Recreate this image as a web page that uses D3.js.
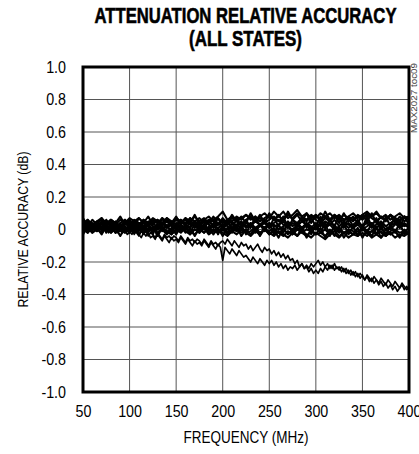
<!DOCTYPE html>
<html>
<head>
<meta charset="utf-8">
<script src="https://cdn.jsdelivr.net/npm/d3@7"></script>
<style>
  body { margin: 0; background: #fff; }
  text { font-family: "Liberation Sans", Arial, sans-serif; fill: #000; }
</style>
</head>
<body>
<div id="chart"></div>
<script>
var svgWidth = 419;
var svgHeight = 454;

var margin = { top: 67, right: 10, bottom: 62, left: 83 };
var width = svgWidth - margin.left - margin.right;
var height = svgHeight - margin.top - margin.bottom;

// frequency points (MHz), 5 MHz steps for the states grouped round 0 dB
var freq = [50,55,60,65,70,75,80,85,90,95,
  100,105,110,115,120,125,130,135,140,145,
  150,155,160,165,170,175,180,185,190,195,
  200,205,210,215,220,225,230,235,240,245,
  250,255,260,265,270,275,280,285,290,295,
  300,305,310,315,320,325,330,335,340,345,
  350,355,360,365,370,375,380,385,390,395,
  400];

// 2.5 MHz steps for the two states that fall away
var freqFine = [50,52.5,55,57.5,60,62.5,65,67.5,70,72.5,
  75,77.5,80,82.5,85,87.5,90,92.5,95,97.5,
  100,102.5,105,107.5,110,112.5,115,117.5,120,122.5,
  125,127.5,130,132.5,135,137.5,140,142.5,145,147.5,
  150,152.5,155,157.5,160,162.5,165,167.5,170,172.5,
  175,177.5,180,182.5,185,187.5,190,192.5,195,197.5,
  200,202.5,205,207.5,210,212.5,215,217.5,220,222.5,
  225,227.5,230,232.5,235,237.5,240,242.5,245,247.5,
  250,252.5,255,257.5,260,262.5,265,267.5,270,272.5,
  275,277.5,280,282.5,285,287.5,290,292.5,295,297.5,
  300,302.5,305,307.5,310,312.5,315,317.5,320,322.5,
  325,327.5,330,332.5,335,337.5,340,342.5,345,347.5,
  350,352.5,355,357.5,360,362.5,365,367.5,370,372.5,
  375,377.5,380,382.5,385,387.5,390,392.5,395,397.5,
  400];

var xTicks = [50,100,150,200,250,300,350,400];
var yTicks = [1.0,0.8,0.6,0.4,0.2,0,-0.2,-0.4,-0.6,-0.8,-1.0];
var yTickLabels = ["1.0","0.8","0.6","0.4","0.2","0","-0.2","-0.4","-0.6","-0.8","-1.0"];

// relative accuracy (dB), one array per attenuation state
var state1 = [0.03,0.05,0.02,0.04,0.06,0.03,0.05,0.02,0.04,0.06,
  0.03,0.05,0.07,0.04,0.03,0.06,0.04,0.07,0.05,0.03,
  0.06,0.04,0.07,0.05,0.08,0.05,0.07,0.04,0.06,0.08,
  0.11,0.06,0.05,0.08,0.06,0.09,0.07,0.05,0.08,0.10,
  0.07,0.11,0.08,0.06,0.09,0.07,0.10,0.08,0.06,0.09,
  0.07,0.10,0.08,0.06,0.09,0.07,0.05,0.08,0.06,0.09,
  0.07,0.10,0.08,0.11,0.07,0.06,0.09,0.07,0.05,0.08,
  0.06];
var state2 = [0.01,0.03,0.00,0.02,0.04,0.01,0.03,0.00,0.02,0.04,
  0.01,0.03,0.02,0.00,0.04,0.02,0.01,0.03,0.05,0.02,
  0.00,0.03,0.01,0.04,0.02,0.00,0.03,0.05,0.02,0.01,
  0.03,0.04,0.01,0.03,0.05,0.02,0.04,0.01,0.03,0.05,
  0.02,0.04,0.06,0.03,0.01,0.04,0.02,0.05,0.03,0.01,
  0.04,0.02,0.05,0.03,0.06,0.02,0.04,0.01,0.03,0.05,
  0.02,0.04,0.01,0.03,0.05,0.02,0.04,0.06,0.03,0.04,
  0.02];
var state3 = [-0.01,0.01,-0.02,0.00,0.02,-0.01,0.01,-0.02,0.00,0.01,
  -0.01,0.02,0.00,-0.02,0.01,-0.01,0.00,0.02,-0.01,-0.03,
  0.00,-0.02,0.01,-0.01,-0.03,0.00,-0.02,0.01,-0.01,-0.02,
  0.00,-0.03,-0.01,0.01,-0.02,0.00,-0.03,-0.01,-0.02,0.00,
  -0.03,-0.01,-0.02,-0.04,-0.01,-0.03,0.00,-0.02,-0.04,-0.01,
  -0.03,-0.02,-0.04,-0.01,-0.03,-0.05,-0.02,-0.01,-0.03,-0.04,
  -0.02,-0.04,-0.01,-0.03,-0.05,-0.02,-0.03,-0.01,-0.04,-0.02,
  -0.03];
var state4 = [0.04,0.06,0.03,0.05,0.07,0.04,0.06,0.03,0.06,0.04,
  0.07,0.05,0.03,0.06,0.04,0.07,0.05,0.03,0.06,0.04,
  0.07,0.05,0.06,0.03,0.05,0.07,0.04,0.06,0.05,0.03,
  0.06,0.04,0.07,0.05,0.03,0.06,0.08,0.05,0.07,0.04,
  0.06,0.08,0.05,0.07,0.10,0.06,0.04,0.07,0.05,0.08,
  0.06,0.04,0.07,0.05,0.08,0.06,0.09,0.07,0.05,0.08,
  0.06,0.09,0.07,0.05,0.08,0.06,0.09,0.07,0.06,0.08,
  0.07];
var state5 = [0.02,0.00,0.03,0.01,0.04,0.02,0.00,0.03,0.01,0.03,
  0.05,0.02,0.04,0.01,0.03,0.00,0.02,0.04,0.01,0.03,
  0.02,0.05,0.03,0.01,0.04,0.02,0.05,0.03,0.01,0.03,
  0.05,0.02,0.00,0.03,0.01,0.04,0.02,0.05,0.03,0.01,
  0.04,0.02,0.03,0.05,0.02,0.00,0.03,0.01,0.04,0.02,
  0.00,0.03,0.01,0.04,0.02,0.00,0.02,0.04,0.01,0.03,
  0.00,0.02,0.04,0.01,0.03,0.00,0.02,0.04,0.01,0.03,
  0.01];
var state6 = [0.00,-0.02,0.01,-0.01,0.02,0.00,-0.02,0.01,-0.01,0.00,
  -0.02,0.01,-0.01,0.02,-0.01,0.00,-0.02,0.01,-0.01,-0.03,
  0.00,-0.01,0.01,-0.02,0.00,-0.01,0.02,-0.02,0.00,-0.01,
  0.01,-0.02,0.00,-0.01,0.01,-0.02,-0.01,0.01,-0.02,0.00,
  -0.01,0.01,-0.02,0.00,0.02,-0.01,0.01,-0.02,0.00,-0.01,
  0.01,-0.02,0.00,-0.03,-0.01,0.01,-0.02,0.00,-0.01,-0.03,
  0.00,-0.02,-0.01,0.01,-0.02,-0.04,-0.01,0.00,-0.02,-0.01,
  -0.02];
var state7 = [0.03,0.05,0.04,0.02,0.05,0.03,0.06,0.04,0.02,0.05,
  0.03,0.06,0.04,0.02,0.05,0.03,0.06,0.04,0.07,0.05,
  0.03,0.06,0.04,0.07,0.05,0.03,0.06,0.08,0.05,0.07,
  0.04,0.06,0.08,0.05,0.07,0.09,0.06,0.08,0.05,0.07,
  0.09,0.06,0.08,0.11,0.07,0.09,0.12,0.08,0.10,0.07,
  0.09,0.06,0.08,0.10,0.07,0.09,0.06,0.08,0.10,0.07,
  0.09,0.11,0.08,0.10,0.07,0.09,0.06,0.08,0.10,0.07,
  0.08];
var state8 = [0.02,0.04,0.01,0.03,0.00,0.02,0.04,0.01,0.03,0.02,
  0.00,0.03,0.01,0.04,0.02,0.00,0.03,0.01,0.02,0.04,
  0.01,0.03,0.00,0.02,0.04,0.01,0.03,0.00,0.02,0.04,
  0.01,0.03,0.05,0.02,0.04,0.01,0.03,0.00,0.02,0.04,
  0.01,0.03,0.00,0.02,0.05,0.02,0.04,0.01,0.03,0.00,
  0.02,0.04,0.01,0.03,0.00,0.02,0.05,0.03,0.01,0.04,
  0.02,0.05,0.03,0.01,0.04,0.02,0.00,0.03,0.05,0.02,
  0.04];
var state9 = [0.01,-0.01,0.02,0.00,-0.02,0.01,-0.01,0.02,0.00,-0.02,
  0.01,-0.01,0.02,-0.02,0.00,0.01,-0.02,0.00,-0.03,0.00,
  -0.02,0.01,-0.01,-0.03,0.00,-0.02,0.01,-0.03,-0.01,0.00,
  -0.02,-0.04,-0.01,-0.03,0.00,-0.02,-0.04,-0.01,-0.03,0.00,
  -0.02,-0.04,-0.01,-0.03,-0.05,-0.02,-0.04,-0.01,-0.03,-0.05,
  -0.02,-0.04,-0.06,-0.03,-0.01,-0.04,-0.02,-0.05,-0.03,-0.01,
  -0.04,-0.02,-0.05,-0.03,-0.01,-0.04,-0.02,-0.05,-0.03,-0.04,
  -0.02];
var state12 = [0.00,0.06,0.01,0.05,0.00,0.06,0.02,0.05,-0.01,0.06,
  0.01,0.05,0.00,0.06,0.02,0.05,0.00,0.07,0.01,0.05,
  0.00,0.06,0.02,0.07,0.01,0.05,0.00,0.06,0.02,0.07,
  0.01,0.06,0.00,0.07,0.02,0.06,0.01,0.08,0.02,0.06,
  0.01,0.07,0.02,0.08,0.01,0.06,0.02,0.08,0.01,0.07,
  0.02,0.08,0.01,0.06,0.02,0.08,0.01,0.07,0.02,0.06,
  0.01,0.08,0.02,0.07,0.00,0.08,0.02,0.07,0.01,0.08,
  0.03];
var state13 = [0.04,-0.02,0.03,-0.01,0.04,-0.02,0.03,-0.02,0.04,-0.01,
  0.03,-0.02,0.04,-0.01,0.03,-0.03,0.04,-0.01,0.03,-0.02,
  0.04,-0.01,0.03,-0.03,0.04,-0.02,0.03,-0.01,0.04,-0.03,
  0.03,-0.02,0.04,-0.01,0.03,-0.03,0.04,-0.02,0.03,-0.01,
  0.04,-0.03,0.03,-0.02,0.04,-0.03,0.03,-0.01,0.04,-0.03,
  0.03,-0.02,0.04,-0.04,0.03,-0.02,0.04,-0.03,0.02,-0.04,
  0.03,-0.02,0.04,-0.03,0.02,-0.04,0.03,-0.02,0.04,-0.03,
  0.02];
var state14 = [0.07,0.02,0.06,0.03,0.07,0.02,0.06,0.04,0.08,0.03,
  0.06,0.02,0.07,0.04,0.08,0.03,0.06,0.02,0.07,0.04,
  0.08,0.03,0.07,0.04,0.09,0.03,0.06,0.04,0.08,0.03,
  0.07,0.04,0.09,0.05,0.08,0.04,0.10,0.05,0.09,0.04,
  0.10,0.06,0.09,0.05,0.11,0.06,0.09,0.05,0.10,0.04,
  0.09,0.05,0.11,0.06,0.09,0.04,0.10,0.05,0.08,0.04,
  0.09,0.05,0.10,0.04,0.08,0.05,0.09,0.04,0.08,0.05,
  0.07];
var state15 = [-0.03,0.02,-0.02,0.01,-0.03,0.02,-0.02,0.01,-0.04,0.01,
  -0.02,0.02,-0.03,0.01,-0.02,0.02,-0.04,0.01,-0.02,0.01,
  -0.03,0.02,-0.02,0.01,-0.04,0.01,-0.02,0.02,-0.03,0.01,
  -0.04,0.01,-0.02,0.02,-0.04,0.00,-0.03,0.01,-0.04,0.01,
  -0.03,0.00,-0.05,0.01,-0.03,0.00,-0.04,0.01,-0.05,0.00,
  -0.03,0.01,-0.05,0.00,-0.04,0.01,-0.05,-0.01,-0.03,0.01,
  -0.05,0.00,-0.04,0.01,-0.05,0.00,-0.03,-0.01,-0.05,0.00,
  -0.03];

// the two states that fall away (on freqFine)
var stateLowA = [0.02,0.00,0.03,0.01,-0.01,0.02,0.00,0.03,-0.01,0.01,
  0.02,-0.01,0.01,0.00,-0.02,0.01,-0.01,0.00,-0.02,0.00,
  -0.01,-0.03,0.00,-0.02,-0.04,-0.01,-0.03,-0.01,-0.04,-0.02,
  -0.03,-0.05,-0.02,-0.04,-0.06,-0.03,-0.05,-0.04,-0.06,-0.04,
  -0.05,-0.07,-0.04,-0.06,-0.08,-0.05,-0.07,-0.06,-0.08,-0.06,
  -0.07,-0.09,-0.06,-0.08,-0.10,-0.07,-0.09,-0.08,-0.10,-0.08,
  -0.07,-0.09,-0.06,-0.08,-0.10,-0.07,-0.09,-0.11,-0.08,-0.10,
  -0.09,-0.12,-0.10,-0.13,-0.11,-0.09,-0.12,-0.14,-0.11,-0.13,
  -0.12,-0.15,-0.13,-0.16,-0.14,-0.17,-0.15,-0.18,-0.16,-0.19,
  -0.18,-0.21,-0.19,-0.23,-0.21,-0.24,-0.23,-0.26,-0.24,-0.27,
  -0.25,-0.27,-0.24,-0.26,-0.23,-0.25,-0.22,-0.24,-0.21,-0.24,
  -0.23,-0.26,-0.24,-0.27,-0.25,-0.28,-0.26,-0.29,-0.27,-0.30,
  -0.28,-0.31,-0.29,-0.32,-0.30,-0.33,-0.31,-0.34,-0.32,-0.35,
  -0.33,-0.36,-0.34,-0.37,-0.35,-0.38,-0.36,-0.34,-0.37,-0.35,
  -0.37];
var stateLowB = [0.00,0.03,0.01,-0.01,0.02,0.00,0.03,0.01,-0.01,0.02,
  0.00,-0.02,0.01,-0.01,0.01,-0.02,0.00,-0.02,0.00,-0.03,
  -0.02,0.00,-0.03,-0.01,-0.03,-0.05,-0.02,-0.04,-0.02,-0.05,
  -0.04,-0.06,-0.03,-0.05,-0.07,-0.04,-0.06,-0.08,-0.05,-0.07,
  -0.06,-0.08,-0.05,-0.07,-0.09,-0.06,-0.08,-0.10,-0.07,-0.09,
  -0.08,-0.10,-0.07,-0.09,-0.11,-0.08,-0.10,-0.12,-0.09,-0.11,
  -0.19,-0.11,-0.13,-0.15,-0.12,-0.14,-0.16,-0.13,-0.15,-0.17,
  -0.16,-0.18,-0.20,-0.17,-0.19,-0.21,-0.18,-0.20,-0.22,-0.19,
  -0.21,-0.19,-0.22,-0.20,-0.23,-0.21,-0.24,-0.22,-0.25,-0.23,
  -0.24,-0.22,-0.25,-0.23,-0.21,-0.24,-0.22,-0.24,-0.21,-0.23,
  -0.21,-0.19,-0.22,-0.20,-0.23,-0.21,-0.24,-0.22,-0.25,-0.23,
  -0.25,-0.23,-0.26,-0.24,-0.27,-0.25,-0.28,-0.26,-0.29,-0.27,
  -0.29,-0.31,-0.28,-0.30,-0.32,-0.29,-0.31,-0.33,-0.30,-0.32,
  -0.34,-0.31,-0.33,-0.35,-0.32,-0.34,-0.36,-0.33,-0.35,-0.37,
  -0.36];

var states = [state1,state2,state3,state4,state5,state6,state7,state8,
  state9,state12,state13,state14,state15];
var lowStates = [stateLowA, stateLowB];

var svg = d3.select("#chart")
    .append("svg")
    .attr("width", svgWidth)
    .attr("height", svgHeight);

var chartGroup = svg.append("g")
    .attr("transform", `translate(${margin.left}, ${margin.top})`);

var xScale = d3.scaleLinear().domain([50, 400]).range([0, width]);
var yScale = d3.scaleLinear().domain([-1, 1]).range([height, 0]);

// squeeze a text to a narrow face (no narrow font installed)
function condense(sel, k) {
  sel.each(function() {
    var len = this.getComputedTextLength();
    d3.select(this)
      .attr("textLength", len * k)
      .attr("lengthAdjust", "spacingAndGlyphs");
  });
}

// grid
chartGroup.append("g")
    .selectAll("line")
    .data(xTicks.slice(1, -1))
    .enter()
    .append("line")
    .attr("x1", d => xScale(d)).attr("x2", d => xScale(d))
    .attr("y1", 0).attr("y2", height)
    .attr("stroke", "#555").attr("stroke-width", 1);

chartGroup.append("g")
    .selectAll("line")
    .data(yTicks.slice(1, -1))
    .enter()
    .append("line")
    .attr("y1", d => yScale(d)).attr("y2", d => yScale(d))
    .attr("x1", 0).attr("x2", width)
    .attr("stroke", "#555").attr("stroke-width", 1);

// traces
var line = d3.line()
    .x((d, i) => xScale(freq[i]))
    .y(d => yScale(d));
var lineFine = d3.line()
    .x((d, i) => xScale(freqFine[i]))
    .y(d => yScale(d));

chartGroup.append("g")
    .selectAll("path")
    .data(states)
    .enter()
    .append("path")
    .attr("d", line)
    .attr("fill", "none")
    .attr("stroke", "#000")
    .attr("stroke-width", 2.1)
    .attr("stroke-linejoin", "round");

chartGroup.append("g")
    .selectAll("path")
    .data(lowStates)
    .enter()
    .append("path")
    .attr("d", lineFine)
    .attr("fill", "none")
    .attr("stroke", "#000")
    .attr("stroke-width", 1.7)
    .attr("stroke-linejoin", "round");

// frame
chartGroup.append("rect")
    .attr("width", width).attr("height", height)
    .attr("fill", "none").attr("stroke", "#000").attr("stroke-width", 3);

// axes (labels only)
var bottomAxis = d3.axisBottom(xScale).tickValues(xTicks).tickSize(0).tickPadding(13);
var leftAxis = d3.axisLeft(yScale).tickValues(yTicks).tickSize(0).tickPadding(17)
    .tickFormat((d, i) => yTickLabels[i]);

var xAxisG = chartGroup.append("g")
    .attr("transform", `translate(0,${height})`)
    .call(bottomAxis);
var yAxisG = chartGroup.append("g").call(leftAxis);

[xAxisG, yAxisG].forEach(g => {
  g.select(".domain").remove();
  g.selectAll("text")
    .attr("font-family", "'Liberation Sans', Arial, sans-serif")
    .attr("font-size", "17px")
    .attr("fill", "#000")
    .call(condense, 0.84);
});

// axis titles
svg.append("text")
    .attr("transform", "rotate(-90)")
    .attr("x", -(margin.top + height / 2))
    .attr("y", 28)
    .attr("text-anchor", "middle")
    .attr("font-size", "15.5px")
    .attr("textLength", 156)
    .attr("lengthAdjust", "spacingAndGlyphs")
    .text("RELATIVE ACCURACY (dB)");

svg.append("text")
    .attr("x", 246)
    .attr("y", 443)
    .attr("text-anchor", "middle")
    .attr("font-size", "16.5px")
    .attr("textLength", 125)
    .attr("lengthAdjust", "spacingAndGlyphs")
    .text("FREQUENCY (MHz)");

// title
svg.append("text")
    .attr("x", 245.5)
    .attr("y", 23)
    .attr("text-anchor", "middle")
    .attr("font-size", "22px")
    .attr("font-weight", "bold")
    .attr("stroke", "#000")
    .attr("stroke-width", 0.6)
    .attr("textLength", 302)
    .attr("lengthAdjust", "spacingAndGlyphs")
    .text("ATTENUATION RELATIVE ACCURACY");

svg.append("text")
    .attr("x", 245.5)
    .attr("y", 46)
    .attr("text-anchor", "middle")
    .attr("font-size", "22px")
    .attr("font-weight", "bold")
    .attr("stroke", "#000")
    .attr("stroke-width", 0.6)
    .attr("textLength", 113)
    .attr("lengthAdjust", "spacingAndGlyphs")
    .text("(ALL STATES)");

// figure id
svg.append("text")
    .attr("transform", "rotate(-90)")
    .attr("x", -133)
    .attr("y", 417)
    .attr("font-size", "9px")
    .attr("textLength", 70)
    .attr("lengthAdjust", "spacingAndGlyphs")
    .style("fill", "#444")
    .text("MAX2027 toc09");
</script>
</body>
</html>
